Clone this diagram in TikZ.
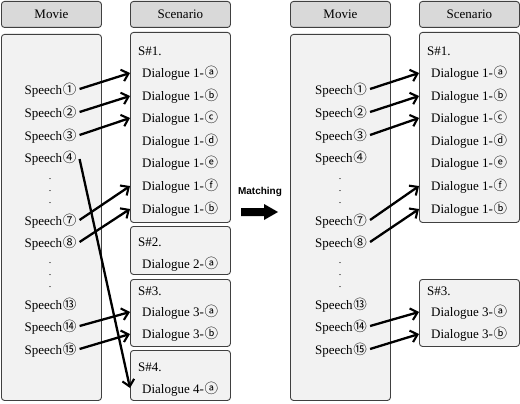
\documentclass[tikz,border=0pt]{standalone}
\usepackage{fontspec}
\setmainfont{Liberation Serif}
\newfontfamily\circfont{Noto Sans CJK KR}
\newfontfamily\boldsans{Liberation Sans}
\usetikzlibrary{arrows.meta}
\definecolor{hdrfill}{HTML}{D9D9D9}
\definecolor{boxfill}{HTML}{F2F2F2}
\definecolor{boxline}{HTML}{404040}
\newcommand{\cc}[1]{\kern0.7pt{\circfont\fontsize{13.5}{14}\selectfont #1}}
\begin{document}
\begin{tikzpicture}[x=1pt,y=-1pt,
  hdrbox/.style={draw=boxline,fill=hdrfill,rounded corners=3pt,line width=0.9pt},
  bodybox/.style={draw=boxline,fill=boxfill,rounded corners=3pt,line width=0.9pt},
  lbl/.style={font=\fontsize{13}{13}\selectfont,inner sep=0pt},
  sp/.style={lbl,anchor=center},
  dl/.style={lbl,anchor=west},
  dotl/.style={font=\fontsize{10}{10}\selectfont,inner sep=0pt},
  link/.style={line width=2.3pt,-{Straight Barb[length=6.5pt,width=12pt,line width=2.1pt]}}
]
\useasboundingbox (0,0) rectangle (520,404);

% ================= LEFT HALF =================
\node[hdrbox,minimum width=100pt,minimum height=26pt,anchor=north west,font=\fontsize{13}{13}\selectfont] (mvh) at (1,1) {Movie};
\node[hdrbox,minimum width=100pt,minimum height=26pt,anchor=north west,font=\fontsize{13}{13}\selectfont] (sch) at (130,1) {Scenario};
\node[bodybox,minimum width=100pt,minimum height=366pt,anchor=north west] (mvb) at (1,34) {};
\node[bodybox,minimum width=100pt,minimum height=190pt,anchor=north west] (sa) at (130,32) {};
\node[bodybox,minimum width=100pt,minimum height=48pt,anchor=north west] (sb) at (130,226) {};
\node[bodybox,minimum width=100pt,minimum height=67pt,anchor=north west] (sc) at (130,279) {};
\node[bodybox,minimum width=100pt,minimum height=50pt,anchor=north west] (sd) at (130,350) {};

\node[sp] (p1) at (50.5,90) {Speech\cc{①}};
\node[sp] (p2) at (50.5,113) {Speech\cc{②}};
\node[sp] (p3) at (50.5,136) {Speech\cc{③}};
\node[sp] (p4) at (50.5,158) {Speech\cc{④}};
\node[dotl] (k1) at (50,179) {.};
\node[dotl] (k2) at (50,191) {.};
\node[dotl] (k3) at (50,203) {.};
\node[sp] (p7) at (50.5,221) {Speech\cc{⑦}};
\node[sp] (p8) at (50.5,243) {Speech\cc{⑧}};
\node[dotl] (k4) at (50,263) {.};
\node[dotl] (k5) at (50,275) {.};
\node[dotl] (k6) at (50,287) {.};
\node[sp] (p13) at (50.5,305) {Speech\cc{⑬}};
\node[sp] (p14) at (50.5,327) {Speech\cc{⑭}};
\node[sp] (p15) at (50.5,350) {Speech\cc{⑮}};

\node[dl] (h1) at (138,51) {S\#1.};
\node[dl] (d1a) at (142,73) {Dialogue 1-\cc{ⓐ}};
\node[dl] (d1b) at (142,96) {Dialogue 1-\cc{ⓑ}};
\node[dl] (d1c) at (142,118) {Dialogue 1-\cc{ⓒ}};
\node[dl] (d1d) at (142,141) {Dialogue 1-\cc{ⓓ}};
\node[dl] (d1e) at (142,163) {Dialogue 1-\cc{ⓔ}};
\node[dl] (d1f) at (142,186) {Dialogue 1-\cc{ⓕ}};
\node[dl] (d1g) at (142,209) {Dialogue 1-\cc{ⓑ}};
\node[dl] (h2) at (138,242) {S\#2.};
\node[dl] (d2a) at (142,264) {Dialogue 2-\cc{ⓐ}};
\node[dl] (h3) at (138,291) {S\#3.};
\node[dl] (d3a) at (142,312) {Dialogue 3-\cc{ⓐ}};
\node[dl] (d3b) at (142,334) {Dialogue 3-\cc{ⓑ}};
\node[dl] (h4) at (138,367) {S\#4.};
\node[dl] (d4a) at (142,389) {Dialogue 4-\cc{ⓐ}};

\draw[link] ([xshift=3pt,yshift=1pt]p1.east) -- (sa.west |- d1a);
\draw[link] ([xshift=3pt,yshift=1pt]p2.east) -- (sa.west |- d1b);
\draw[link] ([xshift=3pt,yshift=1pt]p3.east) -- (sa.west |- d1c);
\draw[link] ([xshift=3pt,yshift=1pt]p7.east) -- (sa.west |- d1f);
\draw[link] ([xshift=3pt,yshift=1pt]p8.east) -- (sa.west |- d1g);
\draw[link] ([xshift=3pt,yshift=1pt]p14.east) -- (sc.west |- d3a);
\draw[link] ([xshift=3pt,yshift=1pt]p15.east) -- (sc.west |- d3b);
\draw[link] ([xshift=3pt,yshift=-1pt]p4.east) -- ([yshift=1pt]sd.west |- d4a);

% ================= MATCHING =================
\node[font=\boldsans\bfseries\fontsize{10}{10}\selectfont,inner sep=0pt] (mt) at (260,192) {Matching};
\fill[black] (241,208) -- (264,208) -- (264,204) -- (278,212) -- (264,220) -- (264,216) -- (241,216) -- cycle;

% ================= RIGHT HALF =================
\node[hdrbox,minimum width=100pt,minimum height=26pt,anchor=north west,font=\fontsize{13}{13}\selectfont] (mvh2) at (290,1) {Movie};
\node[hdrbox,minimum width=100pt,minimum height=26pt,anchor=north west,font=\fontsize{13}{13}\selectfont] (sch2) at (419,1) {Scenario};
\node[bodybox,minimum width=100pt,minimum height=366pt,anchor=north west] (mvb2) at (290,34) {};
\node[bodybox,minimum width=100pt,minimum height=190pt,anchor=north west] (ra) at (419,32) {};
\node[bodybox,minimum width=100pt,minimum height=67pt,anchor=north west] (rc) at (419,279) {};

\node[sp] (q1) at (341,90) {Speech\cc{①}};
\node[sp] (q2) at (341,113) {Speech\cc{②}};
\node[sp] (q3) at (341,136) {Speech\cc{③}};
\node[sp] (q4) at (341,158) {Speech\cc{④}};
\node[dotl] (m1) at (340,179) {.};
\node[dotl] (m2) at (340,191) {.};
\node[dotl] (m3) at (340,203) {.};
\node[sp] (q7) at (341,221) {Speech\cc{⑦}};
\node[sp] (q8) at (341,243) {Speech\cc{⑧}};
\node[dotl] (m4) at (340,263) {.};
\node[dotl] (m5) at (340,275) {.};
\node[dotl] (m6) at (340,287) {.};
\node[sp] (q13) at (341,305) {Speech\cc{⑬}};
\node[sp] (q14) at (341,327) {Speech\cc{⑭}};
\node[sp] (q15) at (341,350) {Speech\cc{⑮}};

\node[dl] (g1) at (427,51) {S\#1.};
\node[dl] (e1a) at (431,73) {Dialogue 1-\cc{ⓐ}};
\node[dl] (e1b) at (431,96) {Dialogue 1-\cc{ⓑ}};
\node[dl] (e1c) at (431,118) {Dialogue 1-\cc{ⓒ}};
\node[dl] (e1d) at (431,141) {Dialogue 1-\cc{ⓓ}};
\node[dl] (e1e) at (431,163) {Dialogue 1-\cc{ⓔ}};
\node[dl] (e1f) at (431,186) {Dialogue 1-\cc{ⓕ}};
\node[dl] (e1g) at (431,209) {Dialogue 1-\cc{ⓑ}};
\node[dl] (g3) at (427,291) {S\#3.};
\node[dl] (e3a) at (431,312) {Dialogue 3-\cc{ⓐ}};
\node[dl] (e3b) at (431,334) {Dialogue 3-\cc{ⓑ}};

\draw[link] ([xshift=3pt,yshift=1pt]q1.east) -- (ra.west |- e1a);
\draw[link] ([xshift=3pt,yshift=1pt]q2.east) -- (ra.west |- e1b);
\draw[link] ([xshift=3pt,yshift=1pt]q3.east) -- (ra.west |- e1c);
\draw[link] ([xshift=3pt,yshift=1pt]q7.east) -- (ra.west |- e1f);
\draw[link] ([xshift=3pt,yshift=1pt]q8.east) -- (ra.west |- e1g);
\draw[link] ([xshift=3pt,yshift=1pt]q14.east) -- (rc.west |- e3a);
\draw[link] ([xshift=3pt,yshift=1pt]q15.east) -- (rc.west |- e3b);
\end{tikzpicture}
\end{document}
